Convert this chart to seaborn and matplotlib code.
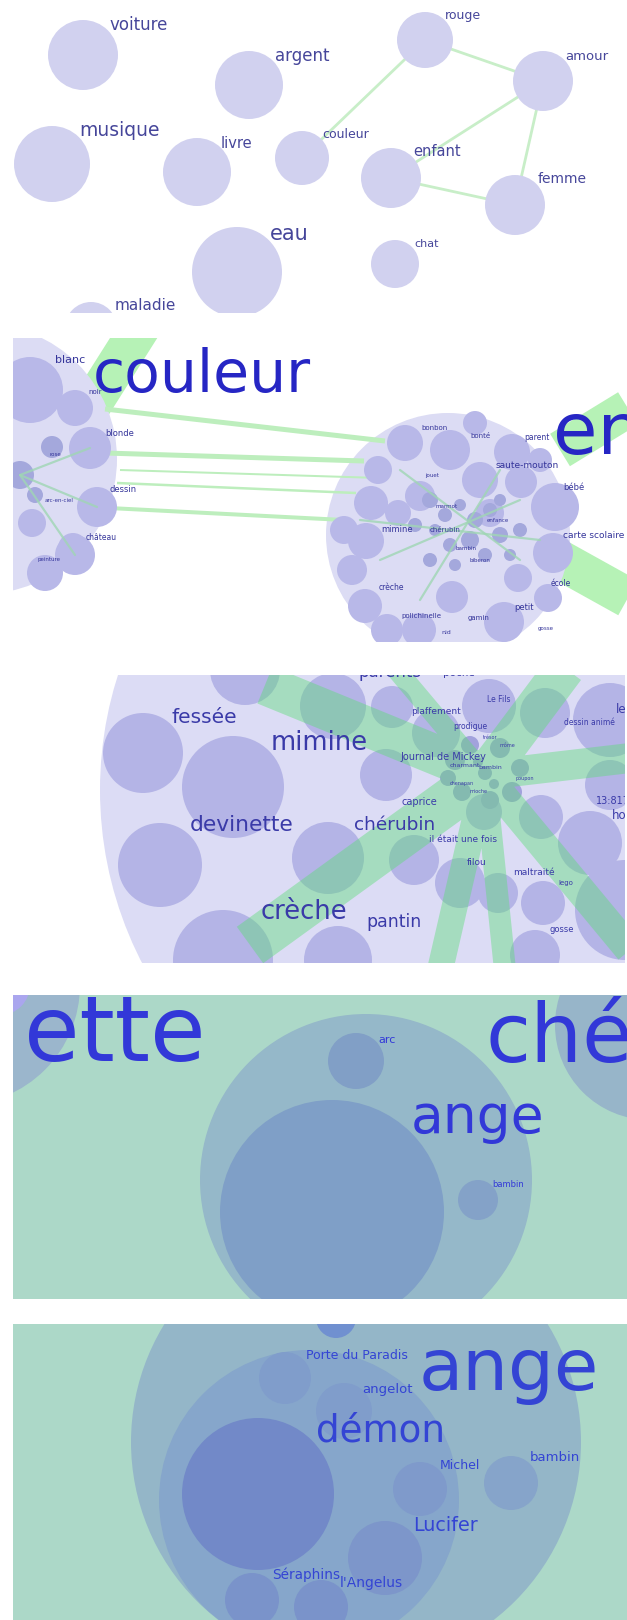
import numpy as np
import pandas as pd
import matplotlib
matplotlib.use("Agg")
import matplotlib.pyplot as plt
from matplotlib.patches import Circle, PathPatch
from matplotlib.path import Path
import seaborn as sns

W, H = 627, 1620

# ---------------- Panel 1 : overview network ----------------
p1_words = ["voiture", "argent", "rouge", "amour", "musique", "livre", "couleur",
            "enfant", "femme", "eau", "chat", "maladie"]
p1_x = [83, 249, 425, 543, 52, 197, 302, 391, 515, 237, 395, 91]
p1_y = [55, 85, 40, 81, 164, 172, 158, 178, 205, 272, 264, 328]
p1_r = [35, 34, 28, 30, 38, 34, 27, 30, 30, 45, 24, 26]
p1_lab_x = [109, 275, 445, 565, 79, 221, 322, 413, 538, 270, 414, 115]
p1_lab_y = [25, 56, 16, 56, 130, 143, 135, 152, 179, 234, 244, 306]
p1_font = [12, 12, 9, 9.5, 13.5, 10.5, 9, 10.5, 10, 15, 8, 11]
p1_links = [("rouge", "amour"), ("rouge", "couleur"), ("amour", "enfant"),
            ("amour", "femme"), ("enfant", "femme")]

# ---------------- Panel 2 : couleur / enfant clusters ----------------
p2_cluster_x = [-18, 448]
p2_cluster_y = [459, 535]
p2_cluster_r = [135, 122]
p2_node_x = [30, 75, 90, 97, 32, 73, 45, 75,
             405, 450, 475, 512, 378, 371, 344, 366, 352, 365, 387, 419, 504, 548,
             555, 553, 518, 480, 521, 420, 398, 490, 452, 540]
p2_node_y = [390, 408, 448, 507, 523, 548, 573, 555,
             443, 450, 423, 452, 470, 503, 530, 541, 570, 606, 630, 630, 622, 598,
             507, 553, 578, 480, 482, 496, 513, 513, 597, 460]
p2_node_r = [33, 18, 21, 20, 14, 15, 18, 20,
             18, 20, 12, 18, 14, 17, 14, 18, 15, 17, 16, 17, 20, 14,
             24, 20, 14, 18, 16, 15, 13, 14, 16, 12]
p2_small_x = [20, 52, 35, 430, 445, 460, 475, 490, 470, 450, 435, 500, 485, 415, 455, 500, 520, 510, 430]
p2_small_y = [475, 447, 495, 500, 515, 505, 520, 510, 540, 545, 530, 535, 555, 525, 565, 500, 530, 555, 560]
p2_small_r = [14, 11, 8, 8, 7, 6, 8, 7, 9, 7, 6, 8, 7, 7, 6, 6, 7, 6, 7]
p2_link_x0 = [105, 105, 117, 109, 120]
p2_link_y0 = [409, 453, 483, 508, 470]
p2_link_x1 = [385, 364, 356, 344, 380]
p2_link_y1 = [441, 461, 493, 520, 478]
p2_link_w = [5, 5, 2.5, 4, 2]
p2_band_x0 = [145, 560, 560]
p2_band_y0 = [320, 450, 560]
p2_band_x1 = [85, 650, 650]
p2_band_y1 = [415, 395, 610]
p2_band_w = [40, 38, 40]
p2_labels = ["blanc", "noir", "blonde", "dessin", "château", "rose", "arc-en-ciel", "peinture",
             "bonbon", "bonté", "parent", "saute-mouton", "bébé", "carte scolaire",
             "mimine", "marmot", "chérubin", "crèche", "école", "petit", "polichinelle",
             "gamin", "nid", "gosse", "jouet", "bambin", "biberon", "enfance"]
p2_lab_x = [55, 88, 105, 110, 86, 50, 45, 38,
            421, 470, 524, 496, 563, 563,
            381, 436, 430, 379, 551, 514, 401,
            468, 441, 538, 425, 455, 470, 487]
p2_lab_y = [360, 392, 434, 490, 538, 455, 500, 560,
            428, 436, 438, 465, 488, 536,
            530, 506, 530, 587, 584, 607, 616,
            618, 632, 628, 475, 548, 560, 520]
p2_lab_fs = [8, 5, 6, 6, 5.5, 4, 4, 4,
             5, 5, 5.5, 6.5, 6, 6.5,
             6, 4, 5, 5.5, 5.5, 6, 5,
             5, 4.5, 4, 4, 4, 4, 4]
p2_big_labels = ["couleur", "enfant"]
p2_big_x = [93, 553]
p2_big_base = [392, 454]
p2_big_fs = [42, 52]

# ---------------- Panel 3 : inside enfant ----------------
p3_big_x, p3_big_y, p3_big_r = 477, 790, 377
p3_node_x = [245, 143, 233, 333, 160, 328, 223, 338,
             392, 386, 436, 489, 545, 610, 610, 590, 541, 484, 414, 460, 498, 543, 535, 625]
p3_node_y = [670, 753, 787, 706, 865, 858, 960, 960,
             707, 775, 733, 706, 713, 720, 785, 843, 817, 812, 860, 883, 893, 903, 955, 910]
p3_node_r = [35, 40, 51, 33, 42, 36, 50, 34,
             21, 26, 24, 27, 25, 37, 25, 32, 22, 18, 25, 25, 20, 22, 25, 50]
p3_small_x = [455, 470, 500, 520, 512, 490, 462, 448, 485, 478, 494]
p3_small_y = [760, 745, 748, 768, 792, 800, 792, 778, 773, 762, 784]
p3_small_r = [10, 9, 10, 9, 10, 9, 9, 8, 7, 5, 5]
p3_hub_x, p3_hub_y = 485, 775
p3_band_x = [265, 250, 440, 505, 630, 565, 395, 630]
p3_band_y = [685, 945, 970, 970, 758, 668, 668, 950]
p3_band_w = [40, 45, 26, 22, 30, 40, 20, 30]
p3_labels = ["parents", "poche", "fessée", "mimine", "devinette", "chérubin", "crèche", "pantin",
             "Le Fils", "plaffement", "prodigue", "Journal de Mickey", "caprice", "13:8171",
             "ho", "dessin animé", "le", "il était une fois", "filou", "maltraité", "lego", "gosse",
             "charmant", "bambin", "trésor", "chenapan", "mioche", "poupon", "môme"]
p3_lab_x = [358, 443, 172, 271, 190, 354, 261, 366,
            487, 411, 453, 400, 402, 596,
            612, 564, 616, 429, 467, 513, 558, 550,
            450, 478, 483, 450, 470, 515, 500]
p3_lab_y = [672, 673, 718, 743, 825, 825, 912, 922,
            700, 712, 727, 757, 802, 801,
            816, 723, 710, 840, 863, 873, 883, 929,
            766, 768, 738, 784, 792, 779, 746]
p3_lab_fs = [12, 7.5, 14.5, 18.5, 15.7, 13.3, 18.5, 12.4,
             5.5, 6.5, 5.5, 7, 7, 7,
             8.5, 5.5, 8.5, 6.5, 6.5, 6.5, 5, 6,
             4.5, 4.5, 3.5, 3.5, 3.5, 3.5, 3.5]

# ---------------- Panel 4 : ange cluster ----------------
p4_circle_x = [-40, 0, 650, 366, 332, 356, 478]
p4_circle_y = [985, 985, 1025, 1180, 1212, 1061, 1200]
p4_circle_r = [120, 30, 95, 166, 112, 28, 20]
p4_labels = ["ette", "ché", "ange", "arc", "bambin"]
p4_lab_x = [24, 486, 411, 378, 492]
p4_lab_base = [1061, 1062, 1133, 1043, 1187]
p4_lab_fs = [65, 59, 38.5, 8, 6]

# ---------------- Panel 5 : ange zoomed ----------------
p5_circle_x = [356, 309, 258, 336, 285, 344, 420, 511, 385, 252, 321]
p5_circle_y = [1442, 1500, 1494, 1318, 1378, 1411, 1489, 1483, 1558, 1600, 1607]
p5_circle_r = [225, 150, 76, 20, 26, 28, 27, 27, 37, 27, 27]
p5_labels = ["Porte du Paradis", "ange", "angelot", "démon", "Michel", "bambin",
             "Lucifer", "Séraphins", "l'Angelus"]
p5_lab_x = [306, 419, 362, 316, 440, 530, 413, 272, 340]
p5_lab_base = [1359, 1390, 1393, 1442, 1469, 1461, 1531, 1579, 1587]
p5_lab_fs = [9, 52, 9.5, 26.8, 9, 9.5, 13.8, 9.8, 10]

# ============================================================
sns.set_theme(style="white")
plt.rcParams["font.family"] = ["DejaVu Sans"]

fig = plt.figure(figsize=(W / 100, H / 100), dpi=100)
fig.patch.set_facecolor("white")


def panel(x0, y0, x1, y1, bg="white"):
    ax = fig.add_axes([x0 / W, 1 - y1 / H, (x1 - x0) / W, (y1 - y0) / H])
    ax.set_xlim(x0, x1)
    ax.set_ylim(y1, y0)
    ax.set_facecolor(bg)
    ax.set_xticks([])
    ax.set_yticks([])
    for s in ax.spines.values():
        s.set_visible(False)
    return ax


def circles(ax, xs, ys, rs, color, alpha=1.0, z=2):
    for x, y, r in zip(xs, ys, rs):
        ax.add_patch(Circle((x, y), r, facecolor=color, edgecolor="none", alpha=alpha, zorder=z))


def band_patch(ax, x0s, y0s, x1s, y1s, ws, color, alpha, z):
    """All bands as one compound path so overlaps do not darken."""
    verts, codes = [], []
    for x0, y0, x1, y1, w in zip(x0s, y0s, x1s, y1s, ws):
        d = np.array([x1 - x0, y1 - y0], float)
        d /= np.hypot(*d)
        n = np.array([-d[1], d[0]]) * w / 2
        p0, p1 = np.array([x0, y0]), np.array([x1, y1])
        quad = [p0 + n, p1 + n, p1 - n, p0 - n, p0 + n]
        verts += [tuple(v) for v in quad]
        codes += [Path.MOVETO, Path.LINETO, Path.LINETO, Path.LINETO, Path.CLOSEPOLY]
    ax.add_patch(PathPatch(Path(verts, codes), facecolor=color, edgecolor="none",
                           alpha=alpha, zorder=z))


PX = 72 / 100  # points per pixel

# ---- Panel 1
ax1 = panel(13, 5, 627, 313)
pos = {w: (x, y) for w, x, y in zip(p1_words, p1_x, p1_y)}
for a, b in p1_links:
    sns.lineplot(x=[pos[a][0], pos[b][0]], y=[pos[a][1], pos[b][1]], ax=ax1,
                 color="#c8eec8", lw=2, sort=False, zorder=1)
circles(ax1, p1_x, p1_y, p1_r, "#d1d1ef")
for w, x, y, fs in zip(p1_words, p1_lab_x, p1_lab_y, p1_font):
    ax1.text(x, y, w, fontsize=fs, color="#46469a", va="center", ha="left",
             clip_on=True, zorder=5)

# ---- Panel 2
ax2 = panel(13, 338, 627, 642)
for x0, y0, x1, y1, w in zip(p2_band_x0, p2_band_y0, p2_band_x1, p2_band_y1, p2_band_w):
    ax2.plot([x0, x1], [y0, y1], color="#b6f2b6", lw=w * PX, solid_capstyle="butt", zorder=1)
circles(ax2, p2_cluster_x, p2_cluster_y, p2_cluster_r, "#dcdcf4", z=2)
for x0, y0, x1, y1, w in zip(p2_link_x0, p2_link_y0, p2_link_x1, p2_link_y1, p2_link_w):
    ax2.plot([x0, x1], [y0, y1], color="#bdeebd", lw=w * PX, solid_capstyle="butt", zorder=2.5)
circles(ax2, p2_node_x, p2_node_y, p2_node_r, "#b8b8e8", z=3)
circles(ax2, p2_small_x, p2_small_y, p2_small_r, "#a4a8dc", z=3.5)
for (x0, y0, x1, y1) in [(400, 470, 520, 560), (380, 560, 520, 500), (420, 600, 500, 470),
                         (360, 520, 540, 540), (20, 475, 90, 448), (20, 475, 97, 507),
                         (20, 475, 75, 555)]:
    ax2.plot([x0, x1], [y0, y1], color="#9fd6b4", lw=1.6, alpha=0.8, zorder=3.6)
for t, x, y, fs in zip(p2_labels, p2_lab_x, p2_lab_y, p2_lab_fs):
    ax2.text(x, y, t, fontsize=fs, color="#34349a", va="center", ha="left",
             clip_on=True, zorder=5)
for t, x, y, fs in zip(p2_big_labels, p2_big_x, p2_big_base, p2_big_fs):
    ax2.text(x, y, t, fontsize=fs, color="#2626c4", va="baseline", ha="left",
             clip_on=True, zorder=6)

# ---- Panel 3
ax3 = panel(13, 675, 625, 963)
circles(ax3, [p3_big_x], [p3_big_y], [p3_big_r], "#dcdcf5", z=1)
circles(ax3, p3_node_x, p3_node_y, p3_node_r, "#b4b4e6", z=2)
circles(ax3, p3_small_x, p3_small_y, p3_small_r, "#a2a2dc", z=2.2)
band_patch(ax3, [p3_hub_x] * len(p3_band_x), [p3_hub_y] * len(p3_band_y),
           p3_band_x, p3_band_y, p3_band_w, "#5ddc78", 0.43, 3)
for t, x, y, fs in zip(p3_labels, p3_lab_x, p3_lab_y, p3_lab_fs):
    ax3.text(x, y, t, fontsize=fs, color="#3a3aa8", va="center", ha="left",
             clip_on=True, zorder=5)

# ---- Panel 4
ax4 = panel(13, 995, 627, 1299, bg="#acd8c8")
p4_colors = ["#9bb6cc", "#aaa6ee", "#97b5c9", "#95b8c9", "#7f9fc7", "#819fc6", "#84a2c8"]
for x, y, r, c in zip(p4_circle_x, p4_circle_y, p4_circle_r, p4_colors):
    circles(ax4, [x], [y], [r], c)
for t, x, y, fs in zip(p4_labels, p4_lab_x, p4_lab_base, p4_lab_fs):
    ax4.text(x, y, t, fontsize=fs, color="#3238d8", va="baseline", ha="left",
             clip_on=True, zorder=5)

# ---- Panel 5
ax5 = panel(13, 1324, 627, 1620, bg="#acd8c8")
p5_colors = ["#94b6c8", "#86a6cb", "#7289c8", "#7090d0", "#809dcb", "#809dcb", "#7f9acb",
             "#86a4ca", "#7d96ca", "#7a93ca", "#7a93ca"]
for x, y, r, c in zip(p5_circle_x, p5_circle_y, p5_circle_r, p5_colors):
    circles(ax5, [x], [y], [r], c)
for t, x, y, fs in zip(p5_labels, p5_lab_x, p5_lab_base, p5_lab_fs):
    ax5.text(x, y, t, fontsize=fs, color="#3444d4", va="baseline", ha="left",
             clip_on=True, zorder=5)

fig.savefig("out.png", dpi=100, facecolor="white")
